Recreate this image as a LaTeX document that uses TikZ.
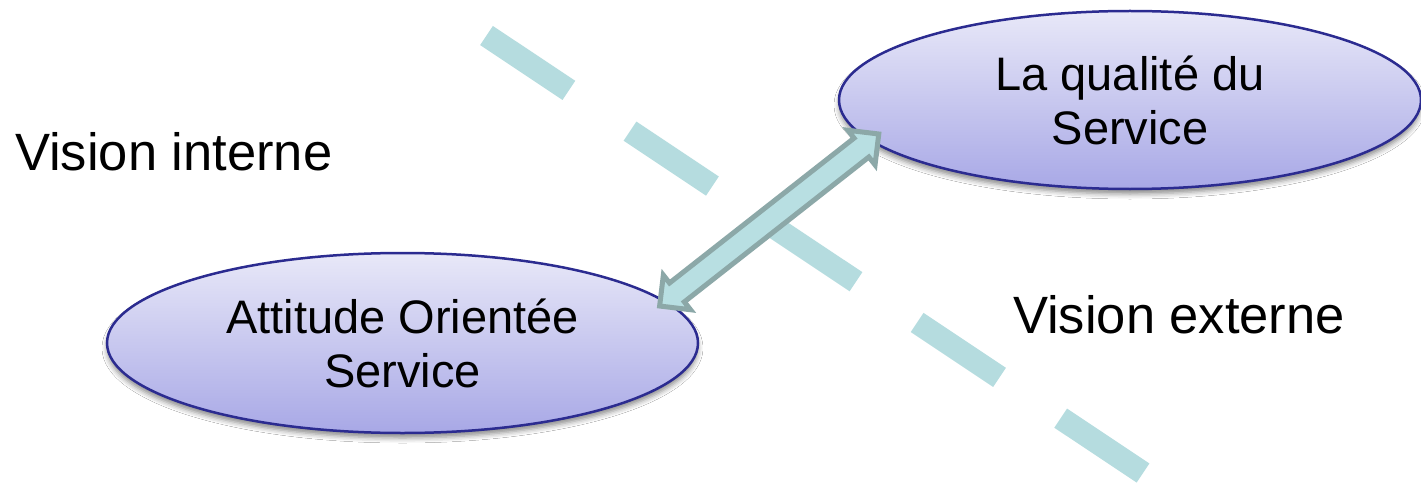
\documentclass[tikz,border=0pt]{standalone}
\usepackage{fontspec}
\setmainfont{Liberation Sans}
\usetikzlibrary{shapes.geometric,shadows.blur,calc}
\definecolor{ovalTop}{HTML}{E8E8F8}
\definecolor{ovalBottom}{HTML}{A8A8E6}
\definecolor{ovalLine}{HTML}{2B2B90}
\definecolor{divider}{HTML}{B5DCDF}
\definecolor{linkFill}{HTML}{B8DFE2}
\definecolor{linkLine}{HTML}{8CA8A8}
\tikzset{
  oval/.style={ellipse, draw=ovalLine, line width=2.5pt,
    top color=ovalTop, bottom color=ovalBottom, inner sep=0pt,
    align=center, font=\fontsize{47}{54}\selectfont,
    blur shadow={shadow xshift=0pt, shadow yshift=-5pt,
      shadow blur radius=5pt, shadow opacity=45}},
  side/.style={anchor=base west, inner sep=0pt,
    font=\fontsize{52.5}{60}\selectfont},
  divide/.style={draw=divider, line width=23pt,
    dash pattern=on 99pt off 73.5pt},
  link/.style={fill=linkFill, draw=linkLine, line width=5pt,
    line join=miter},
}
\begin{document}
\begin{tikzpicture}[x=1pt,y=-1pt]
\fill[white] (0,0) rectangle (1421,484);
\path[use as bounding box] (0,0) rectangle (1421,484);

% dashed boundary between the two views
\coordinate (divA) at (486.5,35.5);
\coordinate (divB) at (1143,473);
\draw[divide] (divA) -- (divB);

% side captions
\node[side] (inner) at (15,171) {Vision interne};
\node[side] (outer) at (1013,333) {Vision externe};

% the two ovals
\node[oval, minimum width=582pt, minimum height=178pt]
  (quality) at (1130,100) {La qualité du\\Service};
\node[oval, minimum width=591pt, minimum height=180pt]
  (attitude) at (402.5,343) {Attitude Orientée\\Service};

% double-headed block arrow linking the ovals
\coordinate (tipA) at (656.7,308.3);
\coordinate (tipB) at (881.7,131.7);
\begin{scope}[shift={($(tipA)!0.5!(tipB)$)}, rotate=38.13]
  \draw[link] (-139.3pt,0pt) -- (-117.3pt,22pt) -- (-117.3pt,12pt)
    -- (117.3pt,12pt) -- (117.3pt,22pt) -- (139.3pt,0pt)
    -- (117.3pt,-22pt) -- (117.3pt,-12pt) -- (-117.3pt,-12pt)
    -- (-117.3pt,-22pt) -- cycle;
\end{scope}
\end{tikzpicture}
\end{document}
